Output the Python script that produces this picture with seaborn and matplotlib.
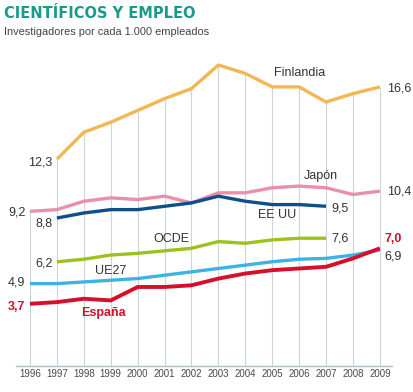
import matplotlib
matplotlib.use("Agg")
import matplotlib.pyplot as plt
import seaborn as sns
import pandas as pd
import numpy as np

sns.set_theme(style="white")
plt.rcParams['font.family'] = ['Liberation Sans', 'DejaVu Sans']

years = list(range(1996, 2010))
year_labels = [str(y) for y in years]

finlandia_years = list(range(1997, 2010))
finlandia = [12.3, 13.9, 14.5, 15.2, 15.9, 16.5, 17.9, 17.4, 16.6, 16.6, 15.7, 16.2, 16.6]
japon_years = list(range(1996, 2010))
japon = [9.2, 9.3, 9.8, 10.0, 9.9, 10.1, 9.7, 10.3, 10.3, 10.6, 10.7, 10.6, 10.2, 10.4]
eeuu_years = list(range(1997, 2008))
eeuu = [8.8, 9.1, 9.3, 9.3, 9.5, 9.7, 10.1, 9.8, 9.6, 9.6, 9.5]
ocde_years = list(range(1997, 2008))
ocde = [6.2, 6.35, 6.6, 6.7, 6.85, 7.0, 7.4, 7.3, 7.5, 7.6, 7.6]
ue27_years = list(range(1996, 2010))
ue27 = [4.9, 4.9, 5.0, 5.1, 5.2, 5.4, 5.6, 5.8, 6.0, 6.2, 6.35, 6.4, 6.6, 6.9]
espana_years = list(range(1996, 2010))
espana = [3.7, 3.8, 4.0, 3.9, 4.7, 4.7, 4.8, 5.2, 5.5, 5.7, 5.8, 5.9, 6.4, 7.0]

series = [
    ("Japón", japon_years, japon),
    ("EE UU", eeuu_years, eeuu),
    ("Finlandia", finlandia_years, finlandia),
    ("OCDE", ocde_years, ocde),
    ("UE27", ue27_years, ue27),
    ("España", espana_years, espana),
]
colors = {
    "Finlandia": "#F2B653",
    "Japón": "#E98FAB",
    "EE UU": "#0D4F8B",
    "OCDE": "#9CC21B",
    "UE27": "#3DB3E4",
    "España": "#D6102B",
}
widths = {"Finlandia": 2.4, "Japón": 2.4, "EE UU": 2.4, "OCDE": 2.4, "UE27": 2.4, "España": 2.8}

rows = []
for name, ys, vs in series:
    for y, v in zip(ys, vs):
        rows.append({"year": y, "value": v, "serie": name})
df = pd.DataFrame(rows)

fig = plt.figure(figsize=(4.14, 3.92), dpi=100)
ax = fig.add_axes([16/414, 26/392, 376/414, 306/392])

# vertical grid up to the top line of each year
maxes = df.groupby("year")["value"].max()
ax.vlines(maxes.index, 0, maxes.values, color="#CAD6DF", lw=0.8, zorder=0)

for i, (name, ys, vs) in enumerate(series):
    sub = df[df["serie"] == name]
    sns.lineplot(data=sub, x="year", y="value", color=colors[name], lw=widths[name],
                 ax=ax, zorder=2 + i, solid_joinstyle="round", solid_capstyle="butt",
                 legend=False)

ax.set_xlim(1995.48, 2009.45)
ax.set_ylim(0, 18.2)
ax.set_xticks(years)
ax.set_xticklabels(year_labels, fontsize=7.0, color="#4A4A4A")
ax.set_yticks([])
ax.set_xlabel("")
ax.set_ylabel("")
for s in ["left", "right", "top"]:
    ax.spines[s].set_visible(False)
ax.spines["bottom"].set_color("#A9BFCC")
ax.spines["bottom"].set_linewidth(1.0)
ax.tick_params(axis="x", length=0, pad=2)

tc = "#333333"
fs = 9.0
# value labels
ax.text(1996.83, 12.1, "12,3", ha="right", va="center", fontsize=fs, color=tc)
ax.text(1995.83, 9.15, "9,2", ha="right", va="center", fontsize=fs, color=tc)
ax.text(1996.83, 8.5, "8,8", ha="right", va="center", fontsize=fs, color=tc)
ax.text(1996.83, 6.1, "6,2", ha="right", va="center", fontsize=fs, color=tc)
ax.text(1995.83, 4.98, "4,9", ha="right", va="center", fontsize=fs, color=tc)
ax.text(1995.83, 3.52, "3,7", ha="right", va="center", fontsize=fs, color=colors["España"], fontweight="bold")
ax.text(2009.25, 16.5, "16,6", ha="left", va="center", fontsize=fs, color=tc)
ax.text(2009.25, 10.4, "10,4", ha="left", va="center", fontsize=fs, color=tc)
ax.text(2007.18, 9.38, "9,5", ha="left", va="center", fontsize=fs, color=tc)
ax.text(2007.18, 7.6, "7,6", ha="left", va="center", fontsize=fs, color=tc)
ax.text(2009.18, 7.55, "7,0", ha="left", va="center", fontsize=fs, color=colors["España"], fontweight="bold")
ax.text(2009.18, 6.5, "6,9", ha="left", va="center", fontsize=fs, color=tc)

# series names
ax.text(2006.0, 17.45, "Finlandia", ha="center", va="center", fontsize=fs, color=tc)
ax.text(2006.8, 11.3, "Japón", ha="center", va="center", fontsize=fs, color=tc)
ax.text(2005.2, 9.0, "EE UU", ha="center", va="center", fontsize=fs, color=tc)
ax.text(2001.26, 7.54, "OCDE", ha="center", va="center", fontsize=fs, color=tc)
ax.text(1999.0, 5.65, "UE27", ha="center", va="center", fontsize=fs, color=tc)
ax.text(1998.73, 3.15, "España", ha="center", va="center", fontsize=fs, color=colors["España"], fontweight="bold")

fig.text(4/414, 1 - 13/392, "CIENTÍFICOS Y EMPLEO", ha="left", va="center",
         fontsize=10.5, fontweight="bold", color="#1A9A8A", family="DejaVu Sans")
fig.text(4/414, 1 - 32/392, "Investigadores por cada 1.000 empleados", ha="left", va="center",
         fontsize=7.9, color="#444444")

fig.savefig("out.png", dpi=100)
